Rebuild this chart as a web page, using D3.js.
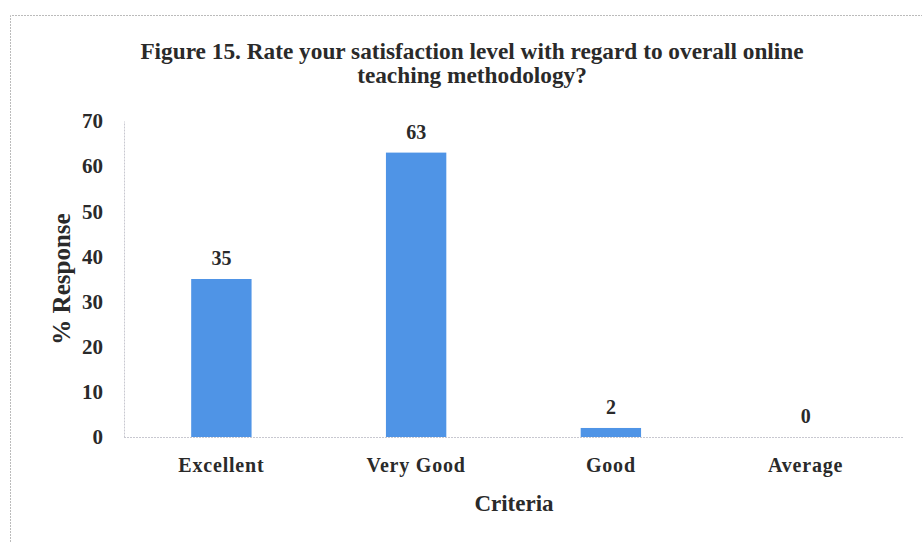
<!DOCTYPE html>
<html>
<head>
<meta charset="utf-8">
<script src="https://cdn.jsdelivr.net/npm/d3@7"></script>
<style>
  body { margin: 0; background: #fff; }
  text { font-family: "Liberation Serif", "Times New Roman", serif; font-weight: bold; fill: #2a2a2a; }
</style>
</head>
<body>
<div id="chart"></div>
<script>
"use strict";

var categories = ["Excellent", "Very Good", "Good", "Average"];
var values = [35, 63, 2, 0];
var yTicks = [0, 10, 20, 30, 40, 50, 60, 70];
var titleLines = [
  "Figure 15. Rate your satisfaction level with regard to overall online",
  "teaching methodology?"
];

var width = 922,
  height = 542,
  margin = { top: 121, right: 19, bottom: 105, left: 124 };

var svg = d3
  .select("#chart")
  .append("svg")
  .attr("width", width)
  .attr("height", height);

// frame of the chart area (dotted, light)
svg
  .append("path")
  .attr("d", "M10.5,542 V15.5 H922")
  .attr("fill", "none")
  .attr("stroke", "#bbb")
  .attr("stroke-width", 1)
  .attr("stroke-dasharray", "2,1");

var x = d3
  .scaleBand()
  .domain(categories)
  .range([margin.left, width - margin.right])
  .paddingInner(0.69)
  .paddingOuter(0.345);

var y = d3
  .scaleLinear()
  .domain([0, 70])
  .range([height - margin.bottom, margin.top]);

// title
svg
  .append("g")
  .selectAll("text")
  .data(titleLines)
  .join("text")
  .attr("x", 472)
  .attr("y", function (d, i) {
    return 59 + i * 24;
  })
  .attr("text-anchor", "middle")
  .attr("font-size", 23.3)
  .text(function (d) {
    return d;
  });

// y axis
var yAxis = svg
  .append("g")
  .attr("transform", "translate(" + margin.left + ",0)")
  .call(d3.axisLeft(y).tickValues(yTicks).tickSize(0).tickPadding(21));
yAxis.select(".domain").attr("stroke", "#c8c8d0").attr("stroke-dasharray", "2,1");
yAxis
  .selectAll(".tick text")
  .attr("font-size", 21)
  .attr("font-family", null)
  .attr("fill", "#2a2a2a");

// x axis
var xAxis = svg
  .append("g")
  .attr("transform", "translate(0," + y(0) + ")")
  .call(d3.axisBottom(x).tickSize(0).tickPadding(21));
xAxis
  .select(".domain")
  .attr("d", "M" + margin.left + ",0.5H" + (width - margin.right))
  .attr("stroke", "#c8c8d0")
  .attr("stroke-dasharray", "2,1");
xAxis
  .selectAll(".tick text")
  .attr("font-size", 20)
  .attr("letter-spacing", 0.8)
  .attr("font-family", null)
  .attr("fill", "#2a2a2a");

// bars
svg
  .append("g")
  .selectAll("rect")
  .data(values)
  .join("rect")
  .attr("x", function (d, i) {
    return x(categories[i]);
  })
  .attr("y", function (d) {
    return y(d);
  })
  .attr("width", x.bandwidth())
  .attr("height", function (d) {
    return y(0) - y(d);
  })
  .attr("fill", "#4f94e6");

// value labels
svg
  .append("g")
  .selectAll("text")
  .data(values)
  .join("text")
  .attr("x", function (d, i) {
    return x(categories[i]) + x.bandwidth() / 2;
  })
  .attr("y", function (d) {
    return y(d) - 14;
  })
  .attr("text-anchor", "middle")
  .attr("font-size", 20)
  .text(function (d) {
    return d;
  });

// axis titles
svg
  .append("text")
  .attr("x", 514)
  .attr("y", 511)
  .attr("text-anchor", "middle")
  .attr("font-size", 23)
  .text("Criteria");

svg
  .append("text")
  .attr("transform", "translate(70,279) rotate(-90)")
  .attr("text-anchor", "middle")
  .attr("font-size", 25)
  .text("% Response");
</script>
</body>
</html>
